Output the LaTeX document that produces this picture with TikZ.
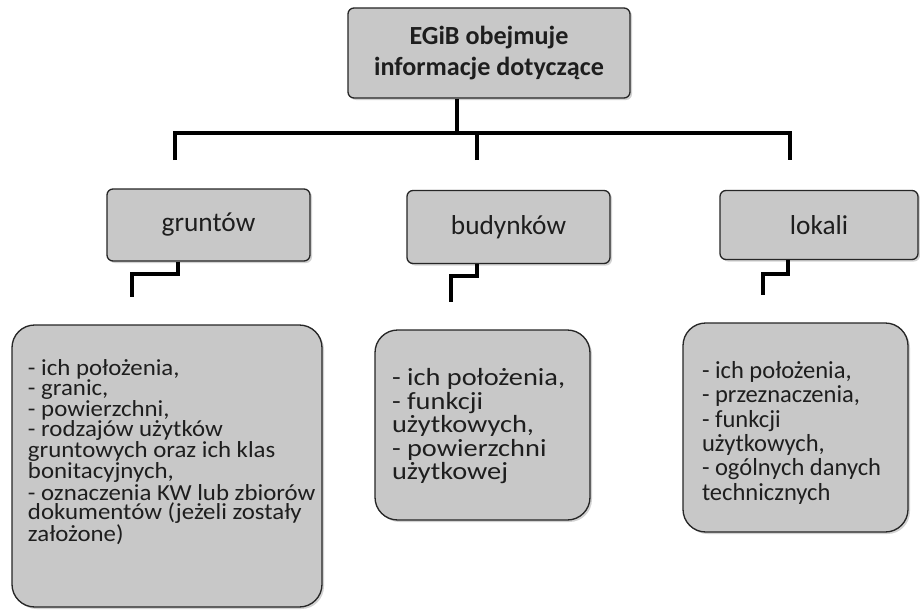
\documentclass[tikz,border=0pt]{standalone}
\usepackage{fontspec}
\setmainfont{Carlito}
\newfontfamily\leftboxfont[FakeStretch=1.08]{Carlito}
\newfontfamily\midboxfont[FakeStretch=1.15]{Carlito}
\newfontfamily\rightboxfont{Carlito}
\usetikzlibrary{shadows}
\definecolor{boxgray}{HTML}{C8C8C8}
\definecolor{ink}{HTML}{1E1E1E}
\begin{document}
\lineskiplimit=-30pt
\begin{tikzpicture}[x=0.75pt,y=-0.75pt,
  conn/.style={line width=3pt, black, line join=miter},
  boxbase/.style={draw=black!85, line width=1pt, fill=boxgray, text=ink,
    drop shadow={opacity=0.35, shadow xshift=1.5pt, shadow yshift=-1.5pt}},
  smallbox/.style={boxbase, rounded corners=4.5pt, align=center, inner sep=0pt},
  bigbox/.style={boxbase, rounded corners=17pt, inner sep=0pt},
  titlefont/.style={font=\fontsize{19.6pt}{23.25pt}\selectfont\bfseries},
  labelfont/.style={font=\fontsize{20.5pt}{24pt}\selectfont},
  leftfont/.style={font=\leftboxfont\fontsize{17.25pt}{14.8pt}\selectfont},
  midfont/.style={font=\midboxfont\fontsize{18.5pt}{17.6pt}\selectfont},
  rightfont/.style={font=\rightboxfont\fontsize{18.4pt}{18.2pt}\selectfont}
]
\fill[white] (0,0) rectangle (920,610);
\useasboundingbox (0,0) rectangle (920,610);

% junction coordinates
\coordinate (j0) at (457,133);
\coordinate (dropL) at (175,160);
\coordinate (dropM) at (477,160);
\coordinate (dropR) at (790,160);
\coordinate (gx) at (178,0);
\coordinate (bx) at (477,0);
\coordinate (lx) at (788,0);
\coordinate (gEnd) at (132,297);
\coordinate (bEnd) at (451,302);
\coordinate (lEnd) at (763,295);

\node[smallbox, titlefont, minimum width=211.5pt, minimum height=67.5pt] (top) at (489,53)
  {EGiB obejmuje\\informacje dotyczące};

\node[smallbox, labelfont, minimum width=152.25pt, minimum height=54pt] (g) at (208.5,225) {gruntów};
\node[smallbox, labelfont, minimum width=152.25pt, minimum height=54.75pt] (b) at (508.5,227) {budynków};
\node[smallbox, labelfont, minimum width=148.5pt, minimum height=51.75pt] (l) at (819,225) {lokali};

\node[bigbox, leftfont] (gt) at (167,466)
  {\hspace*{12pt}\parbox[c][211.5pt][t]{218pt}{\raggedright\vspace*{26pt}%
   - ich położenia,\\
   - granic,\\
   - powierzchni,\\
   - rodzajów użytków\\
   gruntowych oraz ich klas\\
   bonitacyjnych,\\
   - oznaczenia KW lub zbiorów\\
   dokumentów (jeżeli zostały\\
   założone)}\hspace*{2.5pt}};

\node[bigbox, midfont] (bt) at (482.5,425)
  {\hspace*{12.75pt}\parbox[c][142.5pt][t]{148.5pt}{\raggedright\vspace*{29pt}%
   - ich położenia,\\
   - funkcji\\
   użytkowych,\\
   - powierzchni\\
   użytkowej}};

\node[bigbox, rightfont] (lt) at (795.5,427.5)
  {\hspace*{14.25pt}\parbox[c][156.75pt][t]{154.5pt}{\raggedright\vspace*{29pt}%
   - ich położenia,\\
   - przeznaczenia,\\
   - funkcji\\
   użytkowych,\\
   - ogólnych danych\\
   technicznych}};

% connectors
\draw[conn] (top.south -| j0) -- (j0);
\draw[conn] (dropL) |- (j0) -| (dropR);
\draw[conn] (dropM) -- (dropM |- j0);
\draw[conn] (g.south -| gx) -- ++(0,12) -| (gEnd);
\draw[conn] (b.south -| bx) -- ++(0,12) -| (bEnd);
\draw[conn] (l.south -| lx) -- ++(0,14) -| (lEnd);
\end{tikzpicture}
\end{document}
